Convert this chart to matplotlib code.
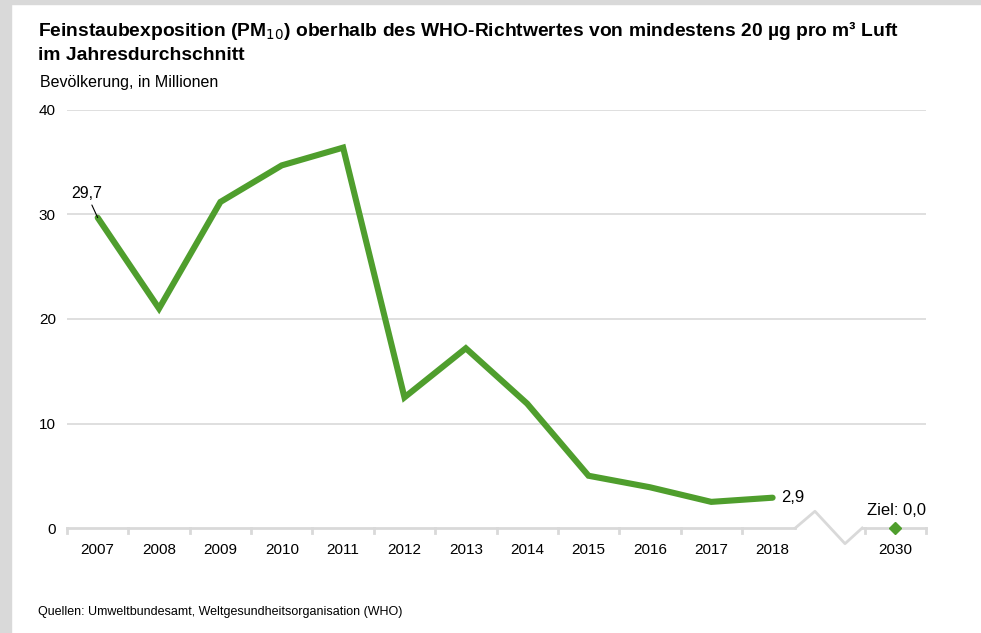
import matplotlib
matplotlib.use("Agg")
import matplotlib.pyplot as plt
from matplotlib.patches import Rectangle
from matplotlib import font_manager

years = ["2007", "2008", "2009", "2010", "2011", "2012", "2013", "2014", "2015", "2016", "2017", "2018"]
population = [29.7, 21.0, 31.2, 34.7, 36.4, 12.5, 17.2, 11.9, 5.0, 3.9, 2.5, 2.9]
target_year = "2030"
target_value = 0.0
y_ticks = [0, 10, 20, 30, 40]

GREEN = "#4f9e2d"
GRID = "#d9d9d9"

names = {f.name for f in font_manager.fontManager.ttflist}
FONT = "Liberation Sans Narrow" if "Liberation Sans Narrow" in names else "Liberation Sans"
plt.rcParams["font.family"] = [FONT, "DejaVu Sans"]

W, H = 981, 633
fig = plt.figure(figsize=(W / 100, H / 100), dpi=100)

# gray frame on the left and top
fig.patches.append(Rectangle((0, 0), 11 / W, 1, transform=fig.transFigure, color=GRID, zorder=0))
fig.patches.append(Rectangle((0, 1 - 4 / H), 1, 4 / H, transform=fig.transFigure, color=GRID, zorder=0))

ax = fig.add_axes([67 / W, 1 - 528 / H, (926 - 67) / W, (528 - 110) / H])

x = list(range(len(years)))
x_target = len(years) + 1
ax.plot(x, population, color=GREEN, lw=4.4, solid_capstyle="round", solid_joinstyle="miter", zorder=3)
ax.plot([x_target], [target_value], marker="D", color=GREEN, ms=6.5, ls="none", zorder=3, clip_on=False)

ax.set_xlim(-0.5, x_target + 0.5)
ax.set_ylim(0, 40)
ax.set_yticks(y_ticks)
ax.set_yticklabels([str(v) for v in y_ticks])
ax.set_xticks(x + [x_target])
ax.set_xticklabels(years + [target_year])
ax.tick_params(axis="both", length=0, labelsize=11, colors="black")
ax.tick_params(axis="y", pad=8)
ax.tick_params(axis="x", pad=11)

for v in y_ticks[1:]:
    ax.axhline(v, color=GRID, lw=1.2, zorder=1)
for s in ax.spines.values():
    s.set_visible(False)

# category axis with break
gap = len(years)
brk = [gap - 0.63, gap - 0.31, gap + 0.18, gap + 0.46]
ax.plot([-0.5, brk[0]], [0, 0], color=GRID, lw=2, zorder=2, clip_on=False)
ax.plot(brk, [0, 1.6, -1.5, 0], color=GRID, lw=2, zorder=2, clip_on=False)
ax.plot([brk[3], x_target + 0.5], [0, 0], color=GRID, lw=2, zorder=2, clip_on=False)
for t in [i - 0.5 for i in range(len(years))] + [gap + 0.5, x_target + 0.5]:
    ax.plot([t, t], [0, -0.45], color=GRID, lw=2, zorder=2, clip_on=False)

# labels
ax.annotate("29,7", xy=(0, population[0]), xytext=(-8, 12), textcoords="offset points",
            ha="center", va="bottom", fontsize=11.5,
            arrowprops=dict(arrowstyle="-", color="black", lw=0.8, shrinkA=1, shrinkB=0))
ax.annotate("2,9", xy=(len(years) - 1, population[-1]), xytext=(6, 0), textcoords="offset points",
            ha="left", va="center", fontsize=12)
ax.annotate("Ziel: 0,0", xy=(x_target, target_value), xytext=(1, 7), textcoords="offset points",
            ha="center", va="bottom", fontsize=12)

fig.text(38 / W, 1 - 30 / H, "Feinstaubexposition (PM$_{10}$) oberhalb des WHO-Richtwertes von mindestens 20 \u00b5g pro m\u00b3 Luft",
         fontsize=13.9, fontweight="bold", va="center", ha="left")
fig.text(38 / W, 1 - 55 / H, "im Jahresdurchschnitt", fontsize=13.9, fontweight="bold", va="center", ha="left")
fig.text(40 / W, 1 - 82 / H, "Bevölkerung, in Millionen", fontsize=11.5, va="center", ha="left")
fig.text(38 / W, 1 - 612 / H, "Quellen: Umweltbundesamt, Weltgesundheitsorganisation (WHO)", fontsize=9, va="center", ha="left")

fig.savefig("out.png", dpi=100)
